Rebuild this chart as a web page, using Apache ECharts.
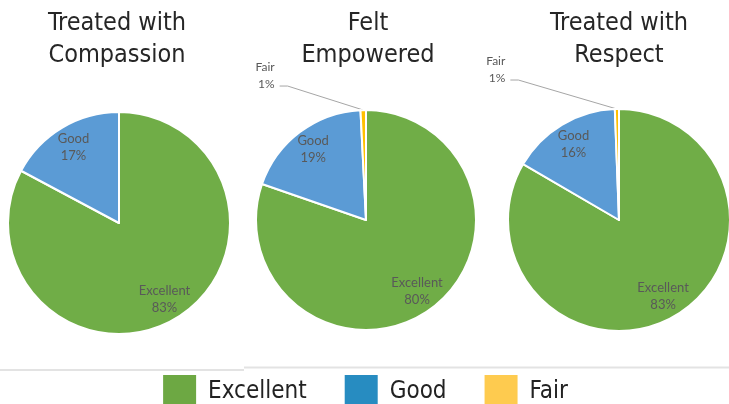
<!DOCTYPE html>
<html>
<head>
<meta charset="utf-8">
<script src="https://cdn.jsdelivr.net/npm/echarts@6/dist/echarts.min.js"></script>
<style>
  html, body { margin: 0; padding: 0; background: #fff; }
  #chart { width: 729px; height: 404px; }
</style>
</head>
<body>
<div id="chart"></div>
<script>
// data (shares in %)
var categories = ['Excellent', 'Good', 'Fair'];
var chartTitles = ['Treated with\nCompassion', 'Felt\nEmpowered', 'Treated with\nRespect'];
var compassion = [82.8, 17.2];
var empowered = [80.3, 18.9, 0.8];
var respect = [83.4, 16.0, 0.6];

var sliceColors = ['#70AD47', '#5B9BD5', '#FFC000'];
var legendColors = ['#6DA843', '#278CC1', '#FECB4F'];
var narrow = '"Liberation Sans Narrow", "DejaVu Sans Condensed", sans-serif';

// where each pie sits: center x, center y, radius, fair label line
var pies = [
    { values: compassion, cx: 119, cy: 223, r: 111, len: 24, len2: 83 },
    { values: empowered, cx: 366, cy: 220, r: 110, len: 24, len2: 83 },
    { values: respect, cx: 619, cy: 220, r: 111, len: 29, len2: 106 }
];

function toData(values) {
    return values.map(function (v, i) {
        return { name: categories[i], value: v };
    });
}

var series = [];
pies.forEach(function (p) {
    // the slices themselves, only the small "Fair" label sits outside
    series.push({
        type: 'pie',
        center: [p.cx, p.cy],
        radius: [0, p.r],
        startAngle: 90,
        percentPrecision: 0,
        animation: false,
        emphasis: { scale: false },
        color: sliceColors,
        itemStyle: { borderColor: '#fff', borderWidth: 2 },
        data: toData(p.values).map(function (d) {
            if (d.name !== 'Fair') d.label = { show: false };
            if (d.name !== 'Fair') d.labelLine = { show: false };
            return d;
        }),
        label: {
            position: 'outside',
            // empty last line lifts the text above the leader line
            formatter: '{b}\n{d}%\n{gap| }',
            fontFamily: 'Lato, sans-serif',
            fontSize: 12,
            lineHeight: 17,
            color: '#595959',
            rich: { gap: { lineHeight: 20, fontSize: 12 } }
        },
        labelLine: {
            show: true,
            length: p.len,
            length2: p.len2,
            lineStyle: { color: '#A6A6A6', width: 1 }
        },
        labelLayout: function (params) {
            var pts = params.labelLinePoints;
            if (!pts || pts.length < 3) return {};
            var end = pts[2];
            return { labelLinePoints: [pts[0], [end[0] + 8, end[1]], end] };
        }
    });
    // transparent copy only to put the inside labels further out
    series.push({
        type: 'pie',
        center: [p.cx, p.cy],
        radius: [60, p.r],
        startAngle: 90,
        percentPrecision: 0,
        animation: false,
        silent: true,
        itemStyle: { color: 'rgba(0,0,0,0)', borderWidth: 0 },
        data: toData(p.values).map(function (d) {
            if (d.name === 'Fair') d.label = { show: false };
            return d;
        }),
        label: {
            position: 'inside',
            formatter: '{b}\n{d}%',
            fontFamily: 'Lato, sans-serif',
            fontSize: 13,
            lineHeight: 17,
            color: '#595959'
        },
        labelLine: { show: false }
    });
});

var option = {
    backgroundColor: '#fff',
    title: pies.map(function (p, i) {
        return {
            text: chartTitles[i],
            left: [117, 368, 619][i],
            top: 7,
            padding: 0,
            textAlign: 'center',
            textVerticalAlign: 'top',
            textStyle: {
                fontFamily: narrow,
                fontSize: 25,
                fontWeight: 'normal',
                lineHeight: 32,
                color: '#262626'
            }
        };
    }),
    legend: {
        left: 'center',
        top: 373,
        padding: 0,
        icon: 'rect',
        itemWidth: 35,
        itemHeight: 35,
        itemGap: 36,
        selectedMode: false,
        data: categories.map(function (c, i) {
            return { name: c, itemStyle: { color: legendColors[i] } };
        }),
        textStyle: {
            fontFamily: narrow,
            fontSize: 24,
            color: '#222',
            padding: [0, 0, 0, 6]
        }
    },
    graphic: [
        { type: 'line', shape: { x1: 0, y1: 370, x2: 244, y2: 370 }, style: { stroke: '#E3E3E3', lineWidth: 2 } },
        { type: 'line', shape: { x1: 244, y1: 367.5, x2: 729, y2: 367.5 }, style: { stroke: '#E3E3E3', lineWidth: 2 } }
    ],
    series: series
};

var chart = echarts.init(document.getElementById('chart'));
chart.setOption(option);
</script>
</body>
</html>
